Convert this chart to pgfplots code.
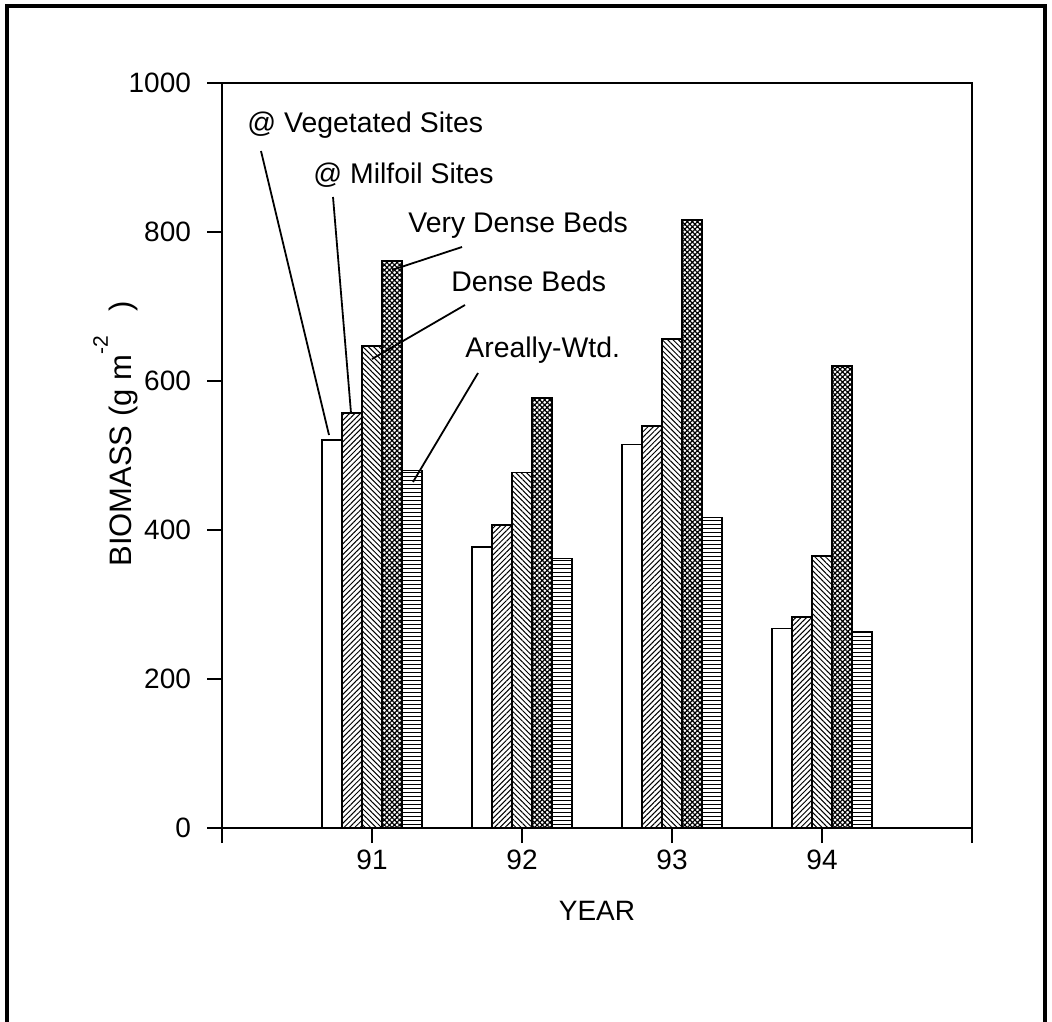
\documentclass[border=0pt]{standalone}
\usepackage{fontspec}
\setmainfont{Liberation Sans}
\usepackage{pgfplots}
\usepackage{pgfplotstable}
\pgfplotsset{compat=1.18}
\usetikzlibrary{patterns.meta}

\pgfplotstableread{
x veg mil dense vdense areal
91 521 557 647 761 480
92 377 407 477 577 362
93 515 540 656 816 417
94 268 283 365 620 264
}\datatable

\begin{document}
\begin{tikzpicture}
\begin{scope}[x=0.5pt,y=-0.5pt]
\useasboundingbox (0,0) rectangle (1052,1021);
\draw[line width=1.6pt] (7,1040) -- (7,6) -- (1045,6) -- (1045,1040);
\end{scope}
\begin{axis}[
  at={(111pt,-414pt)}, anchor=south west,
  scale only axis, width=375pt, height=372.5pt,
  xmin=90, xmax=95, ymin=0, ymax=1000,
  xtick={90,91,92,93,94,95}, xticklabels={,91,92,93,94,},
  ytick={0,200,...,1000},
  tick align=outside, tick pos=left,
  major tick length=7.5pt,
  axis line style={line width=0.9pt},
  every tick/.style={black, line width=0.8pt},
  ticklabel style={font=\fontsize{14}{16}\selectfont},
  yticklabel style={xshift=-4.5pt},
  /pgf/number format/assume math mode=true,
  /pgf/number format/1000 sep={},
  xlabel={YEAR},
  xlabel style={at={(axis description cs:0.5,-0.1235)}, anchor=base, inner sep=0pt, font=\fontsize{14}{16}\selectfont},
  ybar, bar width=0.1333,
  every axis plot/.append style={draw=black, line width=0.8pt},
]
\addplot[fill=white, bar shift=-0.2667] table[x=x,y=veg]{\datatable};
\addplot[pattern={Lines[angle=45,distance=1.9pt,line width=0.5pt]}, bar shift=-0.1333] table[x=x,y=mil]{\datatable};
\addplot[pattern={Lines[angle=-45,distance=1.9pt,line width=0.5pt]}, bar shift=0] table[x=x,y=dense]{\datatable};
\addplot[pattern={Hatch[angle=45,distance=1.8pt,line width=0.6pt]}, bar shift=0.1333] table[x=x,y=vdense]{\datatable};
\addplot[pattern={Lines[angle=0,distance=2pt,line width=0.5pt]}, bar shift=0.2667] table[x=x,y=areal]{\datatable};
\end{axis}
\begin{scope}[x=0.5pt,y=-0.5pt, font=\fontsize{14.2}{16}\selectfont]
\node[rotate=90, anchor=base west, inner sep=0pt, font=\fontsize{15.5}{18}\selectfont] at (131,567) {BIOMASS (g m\raisebox{0.75em}{\fontsize{10.5}{11}\selectfont -2}\hspace{0.8em})};
\node[anchor=base west, inner sep=0pt] at (247,133) {@ Vegetated Sites};
\node[anchor=base west, inner sep=0pt] at (313,184) {@ Milfoil Sites};
\node[anchor=base west, inner sep=0pt] at (408,233) {Very Dense Beds};
\node[anchor=base west, inner sep=0pt] at (451,292) {Dense Beds};
\node[anchor=base west, inner sep=0pt] at (465,357) {Areally-Wtd.};
\draw[line width=0.9pt] (261,151) -- (329,435);
\draw[line width=0.9pt] (333,197) -- (351,413);
\draw[line width=0.9pt] (462,247) -- (392,270);
\draw[line width=0.9pt] (465,305) -- (372,359);
\draw[line width=0.9pt] (478,373) -- (413,482);
\end{scope}
\end{tikzpicture}
\end{document}
